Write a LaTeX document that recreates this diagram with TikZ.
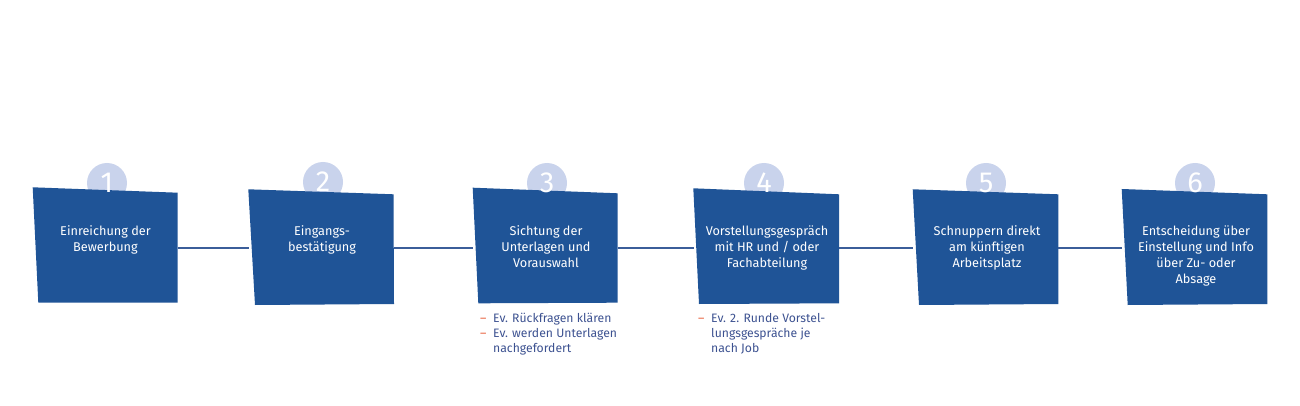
\documentclass[tikz,border=0pt]{standalone}
\usepackage{fontspec}
\setmainfont{Fira Sans}
\definecolor{boxblue}{HTML}{1F5497}
\definecolor{circblue}{HTML}{C9D3EC}
\definecolor{lineblue}{HTML}{3B5E9A}
\definecolor{notetext}{HTML}{3D5291}
\definecolor{dashred}{HTML}{E8603C}
\begin{document}
\begin{tikzpicture}[x=1pt,y=-1pt,
  circ/.style={circle,fill=circblue,minimum size=40pt,inner sep=0pt},
  numtext/.style={text=white,font=\fontsize{29}{29}\selectfont,inner sep=0pt},
  boxframe/.style={rectangle,minimum width=145pt,minimum height=112pt,inner sep=0pt},
  boxtext/.style={text=white,font=\fontsize{12.7}{16}\selectfont,align=center,anchor=north,inner sep=0pt},
  conn/.style={draw=lineblue,line width=1.1pt},
  notetxt/.style={text=notetext,font=\fontsize{12.2}{15}\selectfont,align=left,anchor=north west,inner sep=0pt},
  dashmark/.style={text=dashred,font=\fontsize{12.2}{15}\selectfont,align=left,anchor=north west,inner sep=0pt}]
\useasboundingbox (0,0) rectangle (1300,406);
\fill[white] (0,0) rectangle (1300,406);
% circles
\node[circ] (c1) at (107,183) {};
\node[circ] (c2) at (323,182) {};
\node[circ] (c3) at (547,183) {};
\node[circ] (c4) at (764,183) {};
\node[circ] (c5) at (986,183) {};
\node[circ] (c6) at (1195,183) {};
% boxes
\fill[boxblue] (32.7,187.3) -- (177.7,192.7) -- (177.7,302.7) -- (38.3,302.7) -- cycle;
\fill[boxblue] (248.3,189.3) -- (393.5,194.3) -- (394,304) -- (255,305) -- cycle;
\fill[boxblue] (472.7,187.7) -- (617.7,193.3) -- (617.7,302.7) -- (478.3,303.3) -- cycle;
\fill[boxblue] (693.3,188.3) -- (839,194.3) -- (839,303.3) -- (699,304) -- cycle;
\fill[boxblue] (912.7,189.3) -- (1058.3,194.3) -- (1058.3,304) -- (919,305) -- cycle;
\fill[boxblue] (1121.7,189) -- (1267.3,194.3) -- (1267.3,304) -- (1127.7,305) -- cycle;
% frames for connectors
\node[boxframe] (b1) at (105.2,248) {};
\node[boxframe] (b2) at (321.2,248) {};
\node[boxframe] (b3) at (545.2,248) {};
\node[boxframe] (b4) at (766.2,248) {};
\node[boxframe] (b5) at (985.5,248) {};
\node[boxframe] (b6) at (1194.5,248) {};
\draw[conn] (b1.east) -- (b2.west);
\draw[conn] (b2.east) -- (b3.west);
\draw[conn] (b3.east) -- (b4.west);
\draw[conn] (b4.east) -- (b5.west);
\draw[conn] (b5.east) -- (b6.west);
% numbers
\node[numtext] (n1) at (c1) {1};
\node[numtext] (n2) at (c2) {2};
\node[numtext] (n3) at (c3) {3};
\node[numtext] (n4) at (c4) {4};
\node[numtext] (n5) at (c5) {5};
\node[numtext] (n6) at (c6) {6};
% box texts
\node[boxtext] (t1) at (105.5,225.5) {Einreichung der\\Bewerbung};
\node[boxtext] (t2) at (322,225.5) {Eingangs-\\bestätigung};
\node[boxtext] (t3) at (546,225.5) {Sichtung der\\Unterlagen und\\Vorauswahl};
\node[boxtext] (t4) at (767,225.5) {Vorstellungsgespräch\\mit HR und / oder\\Fachabteilung};
\node[boxtext] (t5) at (987,225.5) {Schnuppern direkt\\am künftigen\\Arbeitsplatz};
\node[boxtext] (t6) at (1196,225.5) {Entscheidung über\\Einstellung und Info\\über Zu- oder\\Absage};
% notes
\node[dashmark] (d3) at (480,312) {\strut–\\\strut–};
\node[notetxt] (m3) at (493,312) {\strut Ev. Rückfragen klären\\Ev. werden Unterlagen\\nachgefordert};
\node[dashmark] (d4) at (698,312) {\strut–};
\node[notetxt] (m4) at (711,312) {\strut Ev. 2. Runde Vorstel-\\lungsgespräche je\\nach Job};
\end{tikzpicture}
\end{document}
